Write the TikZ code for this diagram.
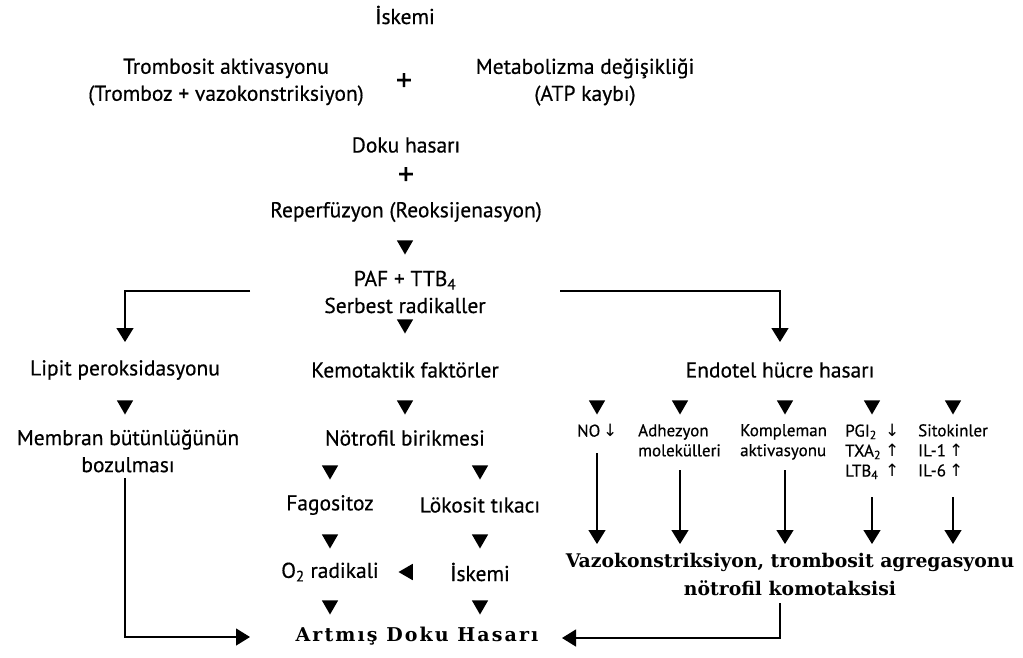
\documentclass[tikz,border=0pt]{standalone}
\usepackage{fontspec}
\setmainfont{PT Sans}[FakeBold=0.5]
\newfontfamily\serifb{DejaVu Serif}
\newfontfamily\serifbs{DejaVu Serif}[LetterSpace=11]
\newfontfamily\arw{DejaVu Sans}
\usetikzlibrary{arrows.meta,shapes.geometric}
\newcommand{\dn}{{\arw\char"2193}}
\newcommand{\up}{{\arw\char"2191}}
\newcommand{\lcol}[2]{\makebox[#1][l]{#2}}
\begin{document}
\begin{tikzpicture}[x=1pt,y=-1pt,
  txt/.style={font=\fontsize{21.5}{27}\selectfont, align=center, inner sep=0pt},
  small/.style={font=\fontsize{17}{20}\selectfont, align=left, inner sep=0pt, anchor=north west},
  big/.style={font=\serifb\bfseries\fontsize{18.8}{28}\selectfont, align=center, inner sep=0pt},
  bigs/.style={font=\serifbs\bfseries\fontsize{19}{28}\selectfont, align=center, inner sep=0pt},
  dtri/.style={regular polygon, regular polygon sides=3, shape border rotate=180, fill=black, inner sep=0pt, minimum size=19pt},
  ltri/.style={regular polygon, regular polygon sides=3, shape border rotate=90, fill=black, inner sep=0pt, minimum size=19pt},
  plus/.style={font=\fontsize{32}{32}\selectfont, inner sep=0pt},
  arr/.style={line width=1.3pt, -{Triangle[width=17pt,length=14pt]}}]
\useasboundingbox[fill=white] (0,0) rectangle (1023,657);

% top
\node[txt] (isk1) at (405,15) {İskemi};
\node[txt] (tromb) at (226,82) {Trombosit aktivasyonu\\(Tromboz + vazokonstriksiyon)};
\node[plus] (p1) at (404,82) {+};
\node[txt] (metab) at (585,82) {Metabolizma değişikliği\\(ATP kaybı)};
\node[txt] (doku) at (406,145) {Doku hasarı};
\node[plus] (p2) at (406,176) {+};
\node[txt] (reperf) at (406,212) {Reperfüzyon (Reoksijenasyon)};
\node[dtri] (t0) at (405,245) {};
\node[txt] (paf) at (405,292) {PAF + TTB\textsubscript{4}\\Serbest radikaller};
\node[dtri] (t1) at (405,324) {};

% middle row
\node[txt] (lipit) at (125,370) {Lipit peroksidasyonu};
\node[txt] (kemo) at (405,370) {Kemotaktik faktörler};
\node[txt] (endo) at (780,370) {Endotel hücre hasarı};

% left branch
\coordinate (ls) at (250,291);
\coordinate (le) at (125,342);
\draw[arr] (ls) -| (le);
\node[dtri] (t2) at (125,405) {};
\node[txt] (membran) at (128,451) {Membran bütünlüğünün\\bozulması};

% right branch
\coordinate (rs) at (560,291);
\coordinate (re) at (780,342);
\draw[arr] (rs) -| (re);

% center column
\node[dtri] (t3) at (405,405) {};
\node[txt] (notro) at (405,438) {Nötrofil birikmesi};
\node[dtri] (t4) at (330,470) {};
\node[dtri] (t5) at (480,470) {};
\node[txt] (fago) at (330,505) {Fagositoz};
\node[txt] (loko) at (480,505) {Lökosit tıkacı};
\node[dtri] (t6) at (330,539) {};
\node[dtri] (t7) at (480,539) {};
\node[txt] (o2) at (330,572) {O\textsubscript{2} radikali};
\node[ltri] (t8) at (408,572) {};
\node[txt] (isk2) at (480,572) {İskemi};
\node[dtri] (t9) at (330,605) {};
\node[dtri] (t10) at (480,605) {};
\node[bigs] (artmis) at (417,636) {Artmış Doku Hasarı};

% endotel sub-branches
\node[dtri] (e1) at (597,405) {};
\node[dtri] (e2) at (680,405) {};
\node[dtri] (e3) at (785,405) {};
\node[dtri] (e4) at (872,405) {};
\node[dtri] (e5) at (953,405) {};
\node[small] (no) at (577,424) {NO\,\dn};
\node[small] (adh) at (638,424) {Adhezyon\\molekülleri};
\node[small] (komp) at (740,424) {Kompleman\\aktivasyonu};
\node[small] (pgi) at (845,424) {\lcol{40pt}{PGI\textsubscript{2}}\dn\\\lcol{40pt}{TXA\textsubscript{2}}\up\\\lcol{40pt}{LTB\textsubscript{4}}\up};
\node[small] (sito) at (918,424) {Sitokinler\\\lcol{31pt}{IL-1}\up\\\lcol{31pt}{IL-6}\up};

\node[big] (vazo) at (790,574) {Vazokonstriksiyon, trombosit agregasyonu\\nötrofil komotaksisi};

\coordinate (n1) at (597,453);
\coordinate (n2) at (680,470);
\coordinate (n3) at (785,470);
\coordinate (n4) at (872,497);
\coordinate (n5) at (953,497);
\draw[arr] (n1) -- (n1 |- 0,544);
\draw[arr] (n2) -- (n2 |- 0,544);
\draw[arr] (n3) -- (n3 |- 0,544);
\draw[arr] (n4) -- (n4 |- 0,544);
\draw[arr] (n5) -- (n5 |- 0,544);

% bottom connectors
\coordinate (lb) at (125,478);
\coordinate (lbe) at (250,637);
\draw[arr] (lb) |- (lbe);
\coordinate (rb) at (780,603);
\coordinate (rbe) at (562,638);
\draw[arr] (rb) |- (rbe);
\end{tikzpicture}
\end{document}
